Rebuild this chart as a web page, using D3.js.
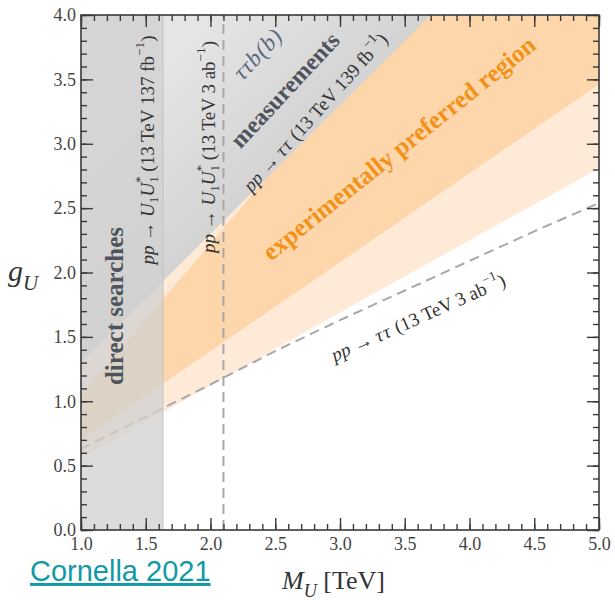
<!DOCTYPE html>
<html>
<head>
<meta charset="utf-8">
<script src="https://cdn.jsdelivr.net/npm/d3@7"></script>
<style>
  body { margin: 0; background: #fff; }
  svg { display: block; }
</style>
</head>
<body>
<svg id="chart" width="615" height="601"></svg>
<script>
// axis ticks
const xTicks = [1.0, 1.5, 2.0, 2.5, 3.0, 3.5, 4.0, 4.5, 5.0];
const yTicks = [0.0, 0.5, 1.0, 1.5, 2.0, 2.5, 3.0, 3.5, 4.0];

// pp -> tau tau (13 TeV 139 fb-1) exclusion boundary
const tauMass = [1.0, 3.7];
const tauCoupling = [1.30, 4.00];

// pp -> tau tau (13 TeV 3 ab-1) projection (dashed)
const projMass = [1.0, 1.5, 2.0, 2.5, 3.0, 3.5, 4.0, 4.5, 5.0];
const projCoupling = [0.63, 0.88, 1.13, 1.39, 1.63, 1.86, 2.09, 2.32, 2.54];

// experimentally preferred region
const bandMass = [1.0, 2.0, 3.0, 4.0, 5.0];
const outerLow = [0.56, 1.12, 1.69, 2.25, 2.81];
const innerLow = [0.70, 1.39, 2.08, 2.77, 3.46];
const innerHighMass = [1.0, 1.63, 2.1, 2.5, 3.0, 3.5];
const innerHigh = [1.05, 1.79, 2.34, 2.82, 3.41, 4.00];

// direct searches pp -> U1 U1*
const directLimit = 1.633;   // 13 TeV 137 fb-1
const directProj = 2.1;      // 13 TeV 3 ab-1

const margin = {top: 15, right: 16, bottom: 71, left: 81},
  width = 615,
  height = 601;

const svg = d3.select("#chart");
const x = d3.scaleLinear().domain([1, 5]).range([margin.left, width - margin.right]);
const y = d3.scaleLinear().domain([0, 4]).range([height - margin.bottom, margin.top]);

const serif = "'Liberation Serif', 'Times New Roman', serif";

const zip = (ms, gs) => ms.map((m, i) => [m, gs[i]]);
const line = d3.line().x(d => x(d[0])).y(d => y(d[1]));

const defs = svg.append("defs");
defs.append("clipPath").attr("id", "plotClip")
  .append("rect")
  .attr("x", x(1)).attr("y", y(4))
  .attr("width", x(5) - x(1)).attr("height", y(0) - y(4));

// gray shading that fades away from the tau tau boundary
const gx = x(2.9), gy = y(3.2);
defs.append("linearGradient").attr("id", "tauGrad")
  .attr("gradientUnits", "userSpaceOnUse")
  .attr("x1", gx).attr("y1", gy)
  .attr("x2", gx - 110).attr("y2", gy - 110)
  .selectAll("stop")
  .data([["0%", "#d3d3d3"], ["100%", "#e5e5e5"]])
  .join("stop")
  .attr("offset", d => d[0])
  .attr("stop-color", d => d[1]);

const plot = svg.append("g").attr("clip-path", "url(#plotClip)");

// outer (light) band, topped by the tau tau exclusion
plot.append("path")
  .attr("d", line(zip(bandMass, outerLow).concat([[5, 4], [1, 4]])) + "Z")
  .attr("fill", "#feead6");

// inner (dark) band
plot.append("path")
  .attr("d", line(zip(bandMass, innerLow).concat([[5, 4]], zip(innerHighMass, innerHigh).reverse())) + "Z")
  .attr("fill", "#fdd7ab");

// tau tau measurements exclusion
plot.append("path")
  .attr("d", line(zip(tauMass, tauCoupling).concat([[tauMass[tauMass.length - 1], 4], [1, 4]])) + "Z")
  .attr("fill", "url(#tauGrad)");

// projections
plot.append("path")
  .attr("d", line(zip(projMass, projCoupling)))
  .attr("fill", "none")
  .attr("stroke", "#a8a8a8")
  .attr("stroke-width", 2)
  .attr("stroke-dasharray", "10,6");

plot.append("line")
  .attr("x1", x(directProj)).attr("x2", x(directProj))
  .attr("y1", y(0)).attr("y2", y(4))
  .attr("stroke", "#a8a8a8")
  .attr("stroke-width", 2)
  .attr("stroke-dasharray", "10,6");

// direct searches band
plot.append("rect")
  .attr("x", x(1)).attr("y", y(4))
  .attr("width", x(directLimit) - x(1))
  .attr("height", y(0) - y(4))
  .attr("fill", "#d0d0d0")
  .attr("fill-opacity", 0.74);
plot.append("line")
  .attr("x1", x(directLimit)).attr("x2", x(directLimit))
  .attr("y1", y(0)).attr("y2", y(4))
  .attr("stroke", "#c2c2c2")
  .attr("stroke-width", 1);

// text with italic parts, sub- and superscripts
function richText(sel, parts, size) {
  let shift = 0;
  parts.forEach(p => {
    const target = p.sub ? size * 0.3 : p.sup ? -size * 0.4 : 0;
    const ts = sel.append("tspan").text(p.t).attr("dy", target - shift);
    shift = target;
    if (p.sub || p.sup) ts.attr("font-size", size * 0.7);
    if (p.i) ts.attr("font-style", "italic");
    if (p.dx) ts.attr("dx", p.dx);
    if (p.ls) ts.attr("letter-spacing", p.ls);
  });
  return sel;
}

function label(cx, cy, angle, size, opts) {
  return svg.append("text")
    .attr("transform", `translate(${cx},${cy}) rotate(${angle})`)
    .attr("text-anchor", "middle")
    .attr("dominant-baseline", "central")
    .attr("font-family", serif)
    .attr("font-size", size)
    .attr("font-weight", opts.bold ? "bold" : null)
    .attr("font-style", opts.italic ? "italic" : null)
    .attr("fill", opts.color || "#333");
}

const fs = 19;
const lq = (tail) => [
  {t: "pp", i: true}, {t: " → "}, {t: "U", i: true}, {t: "1", sub: true},
  {t: "U", i: true}, {t: "1", sub: true}, {t: "*", sup: true, dx: -fs * 0.36}
].concat(tail);

richText(label(147, 150, -90, fs, {}), lq([
  {t: " (13 TeV 137 fb"}, {t: "−1", sup: true}, {t: ")"}]), fs);
richText(label(208, 147, -90, fs, {}), lq([
  {t: " (13 TeV 3 ab"}, {t: "−1", sup: true}, {t: ")"}]), fs);

label(114, 306, -90, 25, {bold: true, color: "#4f545c"}).text("direct searches");

label(258, 54, -47, 23, {italic: true, color: "#5d6880"}).attr("letter-spacing", 1).text("ττb(b)");
label(285, 90, -47, 24, {bold: true, color: "#4f545c"}).text("measurements");

richText(label(315, 112, -48, fs, {}), [
  {t: "pp", i: true}, {t: " → "}, {t: "ττ", i: true, ls: 1.5},
  {t: " (13 TeV 139 fb"}, {t: "−1", sup: true}, {t: ")"}], fs);

label(399, 148, -38.7, 25, {bold: true, color: "#f39118"}).text("experimentally preferred region");

richText(label(418, 317, -24, fs, {}), [
  {t: "pp", i: true}, {t: " → "}, {t: "ττ", i: true, ls: 1.5},
  {t: " (13 TeV 3 ab"}, {t: "−1", sup: true}, {t: ")"}], fs);

// axes: ticks inward on all four sides
const minorX = d3.range(10, 51).map(d => d / 10);
const minorY = d3.range(0, 41).map(d => d / 10);
const axisColor = "#3a3a3a";

function drawAxis(axis, tx, ty, showLabels) {
  const g = svg.append("g")
    .attr("transform", `translate(${tx},${ty})`)
    .call(axis);
  g.select(".domain").remove();
  g.selectAll(".tick line").attr("stroke", axisColor).attr("stroke-width", 1.4);
  g.selectAll("text")
    .attr("font-family", serif)
    .attr("font-size", 18)
    .attr("fill", "#444");
  if (!showLabels) g.selectAll("text").remove();
  return g;
}

const fmt = d3.format(".1f");
drawAxis(d3.axisBottom(x).tickValues(minorX).tickSize(-6), 0, y(0), false);
drawAxis(d3.axisBottom(x).tickValues(xTicks).tickSize(-12).tickPadding(7).tickFormat(fmt), 0, y(0), true);
drawAxis(d3.axisTop(x).tickValues(minorX).tickSize(-6), 0, y(4), false);
drawAxis(d3.axisTop(x).tickValues(xTicks).tickSize(-12), 0, y(4), false);
drawAxis(d3.axisLeft(y).tickValues(minorY).tickSize(-6), x(1), 0, false);
drawAxis(d3.axisLeft(y).tickValues(yTicks).tickSize(-12).tickPadding(5).tickFormat(fmt), x(1), 0, true);
drawAxis(d3.axisRight(y).tickValues(minorY).tickSize(-6), x(5), 0, false);
drawAxis(d3.axisRight(y).tickValues(yTicks).tickSize(-12), x(5), 0, false);

svg.append("rect")
  .attr("x", x(1)).attr("y", y(4))
  .attr("width", x(5) - x(1)).attr("height", y(0) - y(4))
  .attr("fill", "none")
  .attr("stroke", axisColor)
  .attr("stroke-width", 1.6);

// axis titles
richText(svg.append("text")
  .attr("x", 8).attr("y", 281)
  .attr("font-family", serif).attr("font-size", 30).attr("fill", "#333"),
  [{t: "g", i: true}, {t: "U", i: true, sub: true}], 30);

richText(svg.append("text")
  .attr("x", 282).attr("y", 589)
  .attr("font-family", serif).attr("font-size", 26).attr("fill", "#333"),
  [{t: "M", i: true}, {t: "U", i: true, sub: true}, {t: "  [TeV]"}], 26);

// source note
svg.append("text")
  .attr("x", 30).attr("y", 581)
  .attr("font-family", "'Liberation Sans', Arial, sans-serif")
  .attr("font-size", 29)
  .attr("fill", "#1299a6")
  .attr("text-decoration", "underline")
  .text("Cornella 2021");
</script>
</body>
</html>
